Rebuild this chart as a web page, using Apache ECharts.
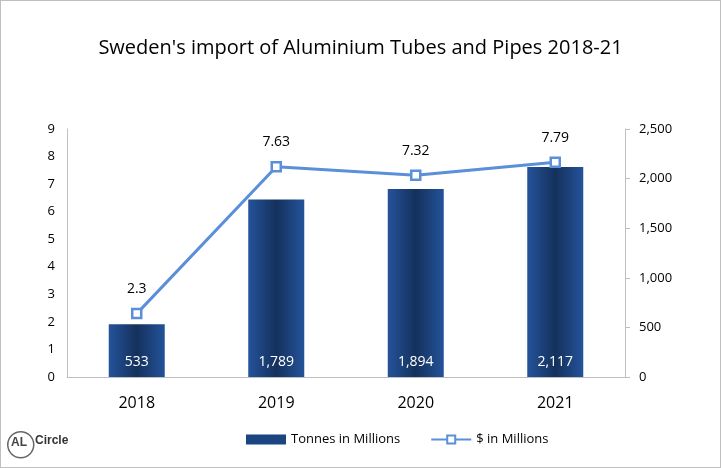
<!DOCTYPE html>
<html>
<head>
<meta charset="utf-8">
<script src="https://cdn.jsdelivr.net/npm/echarts@6/dist/echarts.min.js"></script>
<style>
html,body{margin:0;padding:0;background:#fff;}
#main{width:719px;height:466px;border:1px solid #bfbfbf;}
</style>
</head>
<body>
<div id="main"></div>
<script>
var years = ['2018', '2019', '2020', '2021'];
var tonnes = [533, 1789, 1894, 2117];
var dollars = [2.3, 7.63, 7.32, 7.79];

var chart = echarts.init(document.getElementById('main'));
var option = {
	backgroundColor: '#fff',
	textStyle: {fontFamily: 'Open Sans'},
	title: {
		text: "Sweden's import of Aluminium Tubes and Pipes 2018-21",
		left: 'center', top: 32,
		textStyle: {fontSize: 20, fontWeight: 'normal', color: '#000', fontFamily: 'Open Sans'}
	},
	grid: {left: 66, right: 95, top: 128, bottom: 90},
	legend: {
		bottom: 16, left: 240, itemGap: 30, itemWidth: 40, itemHeight: 10,
		textStyle: {fontSize: 13, color: '#000'},
		data: [
			{name: 'Tonnes in Millions', icon: 'rect', itemStyle: {color: '#1a4580'}},
			{name: '$ in Millions'}
		]
	},
	xAxis: {
		type: 'category', data: years,
		axisLine: {lineStyle: {color: '#bfbfbf'}},
		axisTick: {show: false},
		axisLabel: {fontSize: 16, color: '#000', margin: 18}
	},
	yAxis: [{
		type: 'value', min: 0, max: 9, interval: 1,
		splitLine: {show: false},
		axisLine: {show: true, lineStyle: {color: '#bfbfbf'}},
		axisLabel: {fontSize: 13, color: '#000', margin: 12}
	}, {
		type: 'value', min: 0, max: 2500, interval: 500,
		splitLine: {show: false},
		axisLine: {show: true, lineStyle: {color: '#bfbfbf'}},
		axisTick: {show: true, lineStyle: {color: '#bfbfbf'}},
		axisLabel: {fontSize: 13, color: '#000', margin: 14,
			formatter: function(v){ return v.toLocaleString('en-US'); }}
	}],
	series: [{
		name: 'Tonnes in Millions', type: 'bar', yAxisIndex: 1, barWidth: 56,
		data: tonnes,
		itemStyle: {color: {type: 'linear', x: 0, y: 0, x2: 1, y2: 0,
			colorStops: [{offset: 0, color: '#24539a'}, {offset: 0.5, color: '#14315c'}, {offset: 1, color: '#24539a'}]}},
		label: {show: true, position: 'insideBottom', distance: 8, color: '#fff', fontSize: 14,
			formatter: function(p){ return p.value.toLocaleString('en-US'); }}
	}, {
		name: '$ in Millions', type: 'line', yAxisIndex: 0, data: dollars,
		symbol: 'rect', symbolSize: 9,
		lineStyle: {color: '#5b8fd9', width: 3},
		itemStyle: {color: '#fff', borderColor: '#5b8fd9', borderWidth: 2.5},
		label: {show: true, position: 'top', distance: 12, color: '#000', fontSize: 14}
	}],
	graphic: [{
		type: 'circle', left: 6, top: 430, shape: {r: 13},
		style: {fill: '#fff', stroke: '#666', lineWidth: 1.5}
	}, {
		type: 'text', left: 10, top: 436, style: {text: 'AL', fill: '#444', font: 'bold 12px Arial'}
	}, {
		type: 'text', left: 34, top: 434, style: {text: 'Circle', fill: '#333', font: 'bold 12px Arial'}
	}]
};
chart.setOption(option);
</script>
</body>
</html>
